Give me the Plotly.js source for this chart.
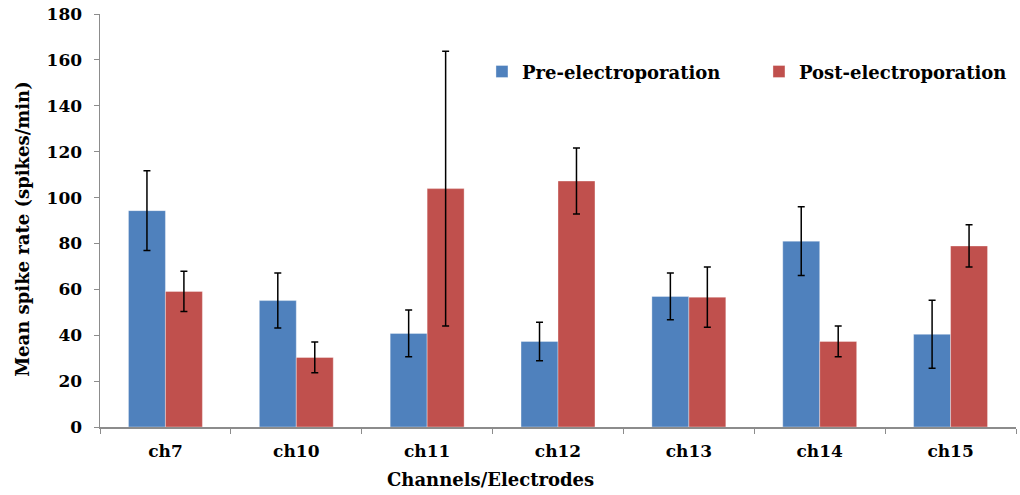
<!DOCTYPE html>
<html>
<head>
<meta charset="utf-8">
<script src="https://cdn.plot.ly/plotly-3.0.1.min.js"></script>
<style>
  html, body { margin: 0; padding: 0; background: #fff; }
  #chart { width: 1020px; height: 495px; }
</style>
</head>
<body>
<div id="chart"></div>
<script>
// Mean spike rate per channel, before and after electroporation
const channels = ["ch7", "ch10", "ch11", "ch12", "ch13", "ch14", "ch15"];
const preMean  = [94.3, 55.1, 40.8, 37.3, 56.9, 81.0, 40.4];
const preErr   = [17.4, 12.0, 10.2, 8.4, 10.2, 15.0, 14.8];
const postMean = [59.1, 30.3, 103.9, 107.2, 56.6, 37.3, 78.9];
const postErr  = [8.8, 6.7, 59.9, 14.4, 13.1, 6.7, 9.2];
const seriesNames = ["Pre-electroporation", "Post-electroporation"];
const yTicks = [0, 20, 40, 60, 80, 100, 120, 140, 160, 180];

const serif = "DejaVu Serif, Liberation Serif, serif";
const axisGray = "#8c8c8c";
const legendFont = { family: serif, weight: 700, size: 18, color: "#000" };

function errorBars(arr) {
  return { type: "data", array: arr, visible: true, color: "#000", thickness: 1.5, width: 3.5 };
}

const traces = [
  {
    type: "bar", name: seriesNames[0], x: channels, y: preMean, legend: "legend",
    marker: { color: "#4F81BD", line: { color: "rgba(255,255,255,0.35)", width: 1 } },
    error_y: errorBars(preErr)
  },
  {
    type: "bar", name: seriesNames[1], x: channels, y: postMean, legend: "legend2",
    marker: { color: "#C0504D", line: { color: "rgba(255,255,255,0.35)", width: 1 } },
    error_y: errorBars(postErr)
  }
];

const layout = {
  width: 1020, height: 495,
  margin: { l: 100, r: 4, t: 14, b: 68 },
  paper_bgcolor: "#fff", plot_bgcolor: "#fff",
  barmode: "group", bargap: 0.435, bargroupgap: 0,
  font: { family: serif, weight: 700, color: "#000", size: 16 },
  showlegend: true,
  // one legend per series so each entry sits at its own spot
  legend: {
    orientation: "h", x: 0.417, y: 0.86, xanchor: "left", yanchor: "middle",
    font: legendFont, bgcolor: "rgba(0,0,0,0)"
  },
  legend2: {
    orientation: "h", x: 0.7194, y: 0.86, xanchor: "left", yanchor: "middle",
    font: legendFont, bgcolor: "rgba(0,0,0,0)"
  },
  xaxis: {
    type: "category", tickson: "boundaries",
    ticks: "outside", ticklen: 5, tickcolor: axisGray, tickwidth: 1,
    showline: true, linecolor: axisGray, linewidth: 1.5,
    showgrid: false, zeroline: false,
    ticklabelstandoff: 8,
    tickfont: { family: serif, weight: 700, size: 17, color: "#000" },
    fixedrange: true
  },
  yaxis: {
    range: [0, 180], tickvals: yTicks, ticktext: yTicks.map(String),
    ticks: "outside", ticklen: 5, tickcolor: axisGray, tickwidth: 1,
    showline: true, linecolor: axisGray, linewidth: 1.5,
    showgrid: false, zeroline: false,
    ticklabelstandoff: 8,
    tickfont: { family: serif, weight: 700, size: 17, color: "#000" },
    fixedrange: true
  },
  annotations: [
    {
      text: "Channels/Electrodes", xref: "paper", yref: "paper",
      x: (490 - 100) / 916, y: -0.128, xanchor: "center", yanchor: "middle",
      showarrow: false, font: { family: serif, weight: 700, size: 18, color: "#000" }
    },
    {
      text: "Mean spike rate (spikes/min)", xref: "paper", yref: "paper",
      x: -0.084, y: 0.48, xanchor: "center", yanchor: "middle", textangle: -90,
      showarrow: false, font: { family: serif, weight: 700, size: 18, color: "#000" }
    }
  ]
};

Plotly.newPlot("chart", traces, layout, { displayModeBar: false, staticPlot: true });
</script>
</body>
</html>
